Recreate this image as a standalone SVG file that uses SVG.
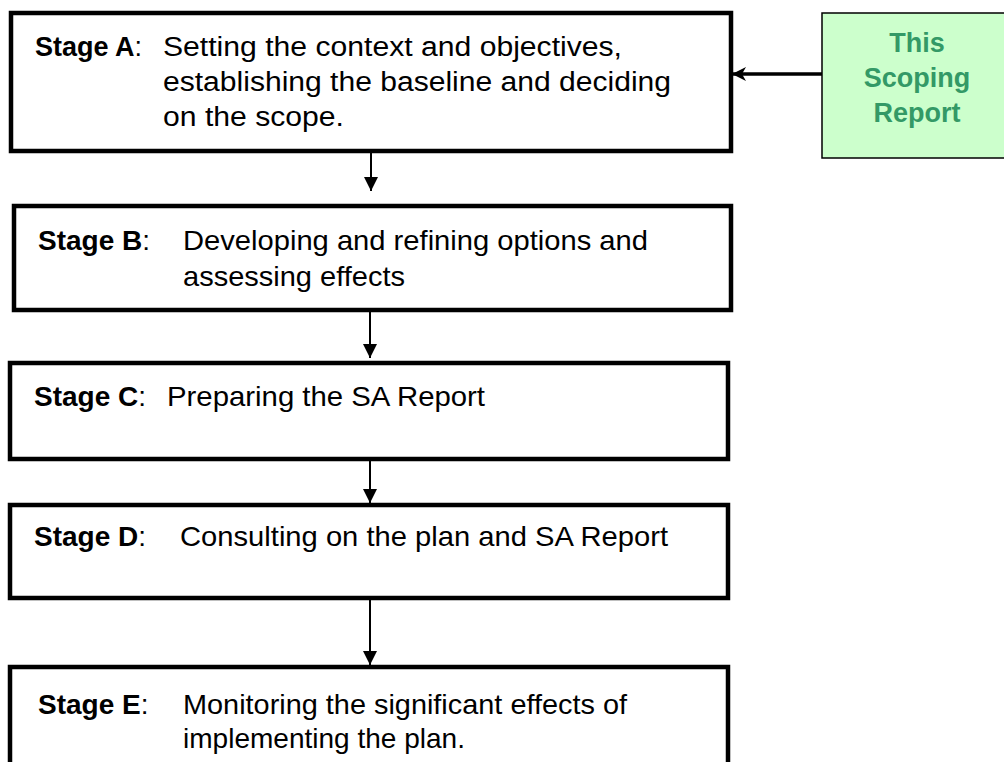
<svg xmlns="http://www.w3.org/2000/svg" width="1004" height="762" viewBox="0 0 1004 762">
<style>
.box{fill:#fff;stroke:#000;stroke-width:4.5}
.green{fill:#ccffcc;stroke:#000;stroke-width:1.5}
.t{font-family:"Liberation Sans",Arial,sans-serif;font-size:27px;fill:#000}
.n{font-family:"Liberation Sans Narrow","Liberation Sans",Arial,sans-serif;font-size:28px;fill:#000}
.b{font-weight:bold}
.g{font-family:"Liberation Sans",Arial,sans-serif;font-size:27px;font-weight:bold;fill:#339966;text-anchor:middle}
.c{stroke:#000;stroke-width:2;fill:none}
.cw{stroke:#000;stroke-width:3.5;fill:none}
</style>
<defs>
<marker id="tri" markerUnits="userSpaceOnUse" markerWidth="16" markerHeight="16" refX="14" refY="7" orient="auto">
<path d="M0,0 L14,7 L0,14 Z" fill="#000"/>
</marker>
<marker id="stealth" markerUnits="userSpaceOnUse" markerWidth="16" markerHeight="16" refX="14" refY="7" orient="auto">
<path d="M0,0 L14,7 L0,14 L4,7 Z" fill="#000"/>
</marker>
</defs>
<g id="connectors">
<line class="c" x1="371" y1="153" x2="371" y2="191" marker-end="url(#tri)"/>
<line class="c" x1="370" y1="312" x2="370" y2="358" marker-end="url(#tri)"/>
<line class="c" x1="370" y1="458" x2="370" y2="503" marker-end="url(#tri)"/>
<line class="c" x1="370" y1="600" x2="370" y2="665" marker-end="url(#tri)"/>
<line class="cw" x1="822" y1="74" x2="732" y2="74" marker-end="url(#stealth)"/>
</g>
<g id="stageA">
<rect class="box" x="11" y="13" width="720" height="138"/>
<text class="t" x="35" y="56"><tspan class="b">Stage A</tspan>:</text>
<text class="t" x="163" y="56" textLength="459" lengthAdjust="spacingAndGlyphs">Setting the context and objectives,</text>
<text class="t" x="163" y="91" textLength="508" lengthAdjust="spacingAndGlyphs">establishing the baseline and deciding</text>
<text class="t" x="163" y="126" textLength="181" lengthAdjust="spacingAndGlyphs">on the scope.</text>
</g>
<g id="scoping">
<rect class="green" x="822" y="13" width="190" height="145"/>
<text class="g" x="917" y="52">This</text>
<text class="g" x="917" y="87">Scoping</text>
<text class="g" x="917" y="122">Report</text>
</g>
<g id="stageB">
<rect class="box" x="14" y="206" width="717" height="104"/>
<text class="n" x="38" y="250"><tspan class="b">Stage B</tspan>:</text>
<text class="n" x="183" y="250" textLength="465" lengthAdjust="spacingAndGlyphs">Developing and refining options and</text>
<text class="n" x="183" y="286" textLength="222" lengthAdjust="spacingAndGlyphs">assessing effects</text>
</g>
<g id="stageC">
<rect class="box" x="10" y="363" width="718" height="96"/>
<text class="n" x="34" y="406"><tspan class="b">Stage C</tspan>:</text>
<text class="n" x="167" y="406" textLength="318" lengthAdjust="spacingAndGlyphs">Preparing the SA Report</text>
</g>
<g id="stageD">
<rect class="box" x="10" y="505" width="718" height="93"/>
<text class="n" x="34" y="546"><tspan class="b">Stage D</tspan>:</text>
<text class="n" x="180" y="546" textLength="488" lengthAdjust="spacingAndGlyphs">Consulting on the plan and SA Report</text>
</g>
<g id="stageE">
<rect class="box" x="10" y="667" width="718" height="100"/>
<text class="n" x="38" y="714"><tspan class="b">Stage E</tspan>:</text>
<text class="n" x="183" y="714" textLength="444" lengthAdjust="spacingAndGlyphs">Monitoring the significant effects of</text>
<text class="n" x="183" y="748" textLength="282" lengthAdjust="spacingAndGlyphs">implementing the plan.</text>
</g>
</svg>
